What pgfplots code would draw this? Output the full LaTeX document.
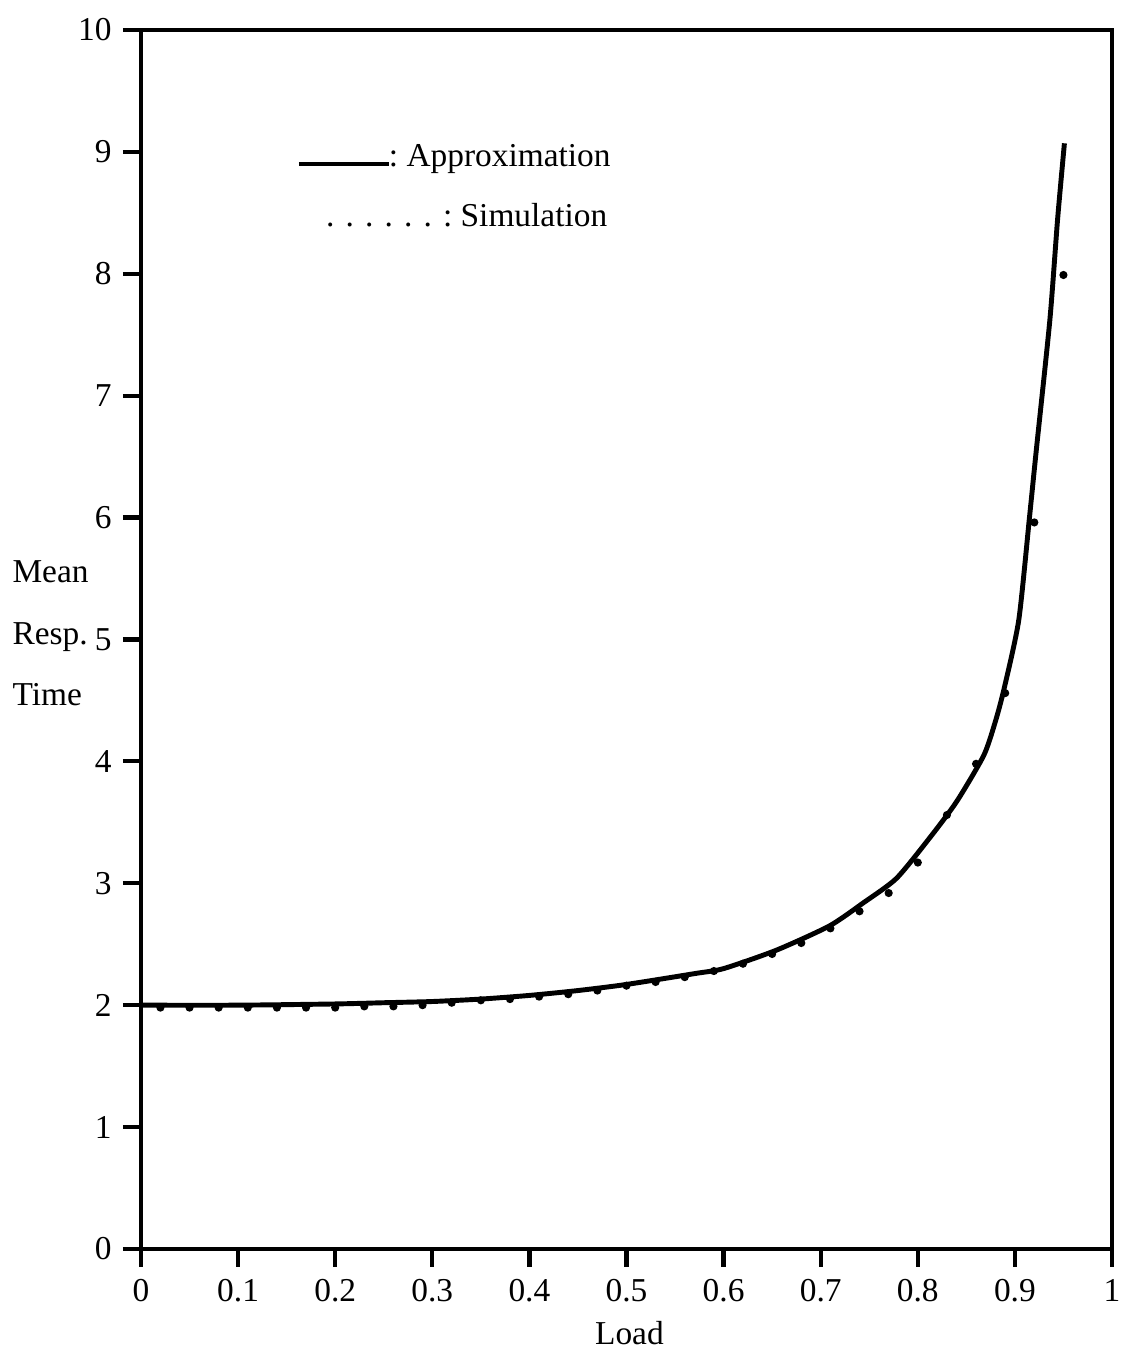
\documentclass[border=0pt]{standalone}
\usepackage{fontspec}
\setmainfont{Liberation Serif}
\usepackage{pgfplots}
\pgfplotsset{compat=1.18}

% Mean response time versus load: analytical approximation and simulation
\pgfplotstableread{
x      y
0.000  2.00
0.100  2.00
0.200  2.01
0.250  2.02
0.300  2.03
0.350  2.05
0.400  2.08
0.450  2.12
0.500  2.17
0.571  2.26
0.600  2.30
0.654  2.45
0.709  2.65
0.744  2.84
0.778  3.04
0.812  3.37
0.840  3.67
0.868  4.05
0.880  4.33
0.889  4.60
0.904  5.16
0.915  6.00
0.922  6.55
0.936  7.62
0.944  8.45
0.951  9.07
}\approxdata

\pgfplotstableread{
x     y
0.02  1.98
0.05  1.98
0.08  1.98
0.11  1.98
0.14  1.98
0.17  1.98
0.20  1.98
0.23  1.99
0.26  1.99
0.29  2.00
0.32  2.02
0.35  2.04
0.38  2.05
0.41  2.07
0.44  2.09
0.47  2.12
0.50  2.16
0.53  2.19
0.56  2.23
0.59  2.28
0.62  2.34
0.65  2.42
0.68  2.51
0.71  2.63
0.74  2.77
0.77  2.92
0.80  3.17
0.83  3.56
0.86  3.98
0.89  4.56
0.92  5.96
0.95  7.99
}\simdata

\begin{document}
\begin{tikzpicture}
\begin{axis}[
  width=97.1mm, height=121.9mm, scale only axis,
  xmin=0, xmax=1, ymin=0, ymax=10,
  xtick={0,0.1,...,1.0},
  ytick={0,1,...,10},
  xticklabels={0,0.1,0.2,0.3,0.4,0.5,0.6,0.7,0.8,0.9,1},
  xtick pos=left, ytick pos=left,
  tick align=outside,
  major tick length=1.8mm,
  axis line style={line width=1.2pt},
  every tick/.style={line width=1.2pt, black},
  /pgf/number format/assume math mode=true,
  tick label style={font=\fontsize{9.5}{11}\selectfont},
  yticklabel style={xshift=0.1mm},
  clip=false,
]
  % fixed page extent
  \path[draw=none] (axis description cs:-0.1452,-0.0837) rectangle (axis description cs:1.0175,1.0246);

  \addplot[black, line width=1.4pt, smooth, tension=0.4] table[x=x, y=y] {\approxdata};
  \addplot[only marks, mark=*, mark size=0.95pt, black] table[x=x, y=y] {\simdata};

  % legend
  \node[anchor=base west, inner sep=0, font=\fontsize{9.5}{11}\selectfont]
    at (axis description cs:0.162,0.888)
    {\rule{9.0mm}{0.4mm}:\ Approximation};
  \node[anchor=base west, inner sep=0, font=\fontsize{9.5}{11}\selectfont]
    at (axis description cs:0.190,0.839)
    {. . . . . . :\ Simulation};

  % axis titles
  \node[anchor=west, align=left, inner sep=0, font=\fontsize{9.5}{17.6}\selectfont]
    at (axis description cs:-0.133,0.505) {Mean\\Resp.\\Time};
  \node[inner sep=0, font=\fontsize{9.5}{11}\selectfont]
    at (axis description cs:0.503,-0.069) {Load};
\end{axis}
\end{tikzpicture}
\end{document}
